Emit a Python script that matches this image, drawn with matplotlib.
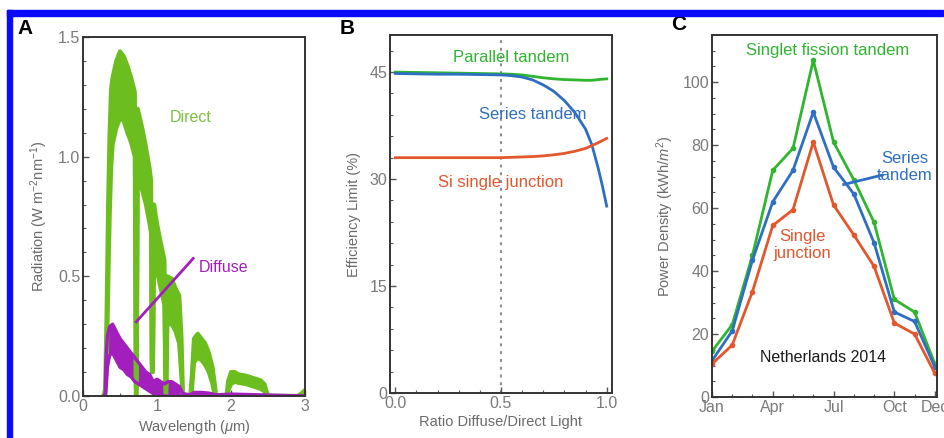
import matplotlib
matplotlib.use("Agg")
import matplotlib.pyplot as plt
from matplotlib.patches import Rectangle
from matplotlib.ticker import MultipleLocator, FixedLocator, FormatStrFormatter

plt.rcParams['font.family'] = ['Liberation Sans', 'DejaVu Sans']
plt.rcParams['mathtext.fontset'] = 'custom'
plt.rcParams['mathtext.rm'] = 'Liberation Sans'
plt.rcParams['mathtext.it'] = 'Liberation Sans:italic'

# ---------------- Panel A data (envelopes of noisy spectra) ----------------
direct_wl = [0.28, 0.30, 0.32, 0.34, 0.36, 0.38, 0.40, 0.45, 0.50, 0.55, 0.60, 0.65, 0.70,
             0.715, 0.725, 0.74, 0.80, 0.85, 0.90, 0.92, 0.93, 0.945, 0.96, 1.00, 1.05, 1.10,
             1.115, 1.125, 1.14, 1.20, 1.25, 1.30, 1.33, 1.35, 1.45, 1.47, 1.50, 1.55, 1.60,
             1.65, 1.70, 1.75, 1.78, 1.80, 1.94, 1.96, 2.00, 2.05, 2.10, 2.20, 2.30, 2.40,
             2.45, 2.48, 2.50, 2.90, 2.95, 3.00]
direct_hi = [0.0, 0.03, 0.35, 0.80, 1.10, 1.28, 1.33, 1.40, 1.44, 1.42, 1.38, 1.33, 1.27,
             0.03, 0.03, 1.20, 1.12, 1.04, 0.95, 0.90, 0.14, 0.14, 0.80, 0.72, 0.64, 0.57,
             0.03, 0.03, 0.50, 0.49, 0.45, 0.42, 0.25, 0.0, 0.0, 0.08, 0.24, 0.26, 0.24,
             0.22, 0.18, 0.12, 0.05, 0.0, 0.0, 0.06, 0.10, 0.10, 0.09, 0.085, 0.075, 0.065,
             0.05, 0.02, 0.0, 0.0, 0.01, 0.025]
direct_lo = [0.0, 0.0, 0.12, 0.45, 0.75, 0.95, 1.05, 1.12, 1.16, 1.15, 1.10, 1.06, 1.00,
             0.0, 0.0, 0.92, 0.86, 0.80, 0.72, 0.68, 0.10, 0.10, 0.60, 0.52, 0.45, 0.38,
             0.0, 0.0, 0.30, 0.30, 0.27, 0.22, 0.08, 0.0, 0.0, 0.02, 0.14, 0.16, 0.15,
             0.13, 0.10, 0.05, 0.0, 0.0, 0.0, 0.02, 0.05, 0.06, 0.055, 0.05, 0.04, 0.03,
             0.02, 0.0, 0.0, 0.0, 0.0, 0.0]

diffuse_wl = [0.29, 0.30, 0.31, 0.33, 0.36, 0.40, 0.45, 0.50, 0.55, 0.60, 0.65, 0.70, 0.75,
              0.80, 0.85, 0.90, 0.95, 1.00, 1.05, 1.10, 1.15, 1.20, 1.25, 1.30, 1.35, 1.45,
              1.50, 1.60, 1.70, 1.80, 2.00, 2.50, 3.00]
diffuse_hi = [0.0, 0.0, 0.15, 0.25, 0.29, 0.30, 0.27, 0.24, 0.22, 0.20, 0.18, 0.16, 0.14,
              0.12, 0.10, 0.09, 0.06, 0.07, 0.06, 0.05, 0.06, 0.06, 0.05, 0.04, 0.01, 0.005,
              0.015, 0.015, 0.012, 0.005, 0.008, 0.004, 0.0]
diffuse_lo = [0.0, 0.0, 0.02, 0.12, 0.17, 0.18, 0.15, 0.12, 0.11, 0.09, 0.08, 0.06, 0.05,
              0.04, 0.03, 0.02, 0.01, 0.01, 0.005, 0.0, 0.0, 0.0, 0.0, 0.0, 0.0, 0.0,
              0.0, 0.0, 0.0, 0.0, 0.0, 0.0, 0.0]

# ---------------- Panel B data ----------------
ratio = [0.0, 0.1, 0.2, 0.3, 0.4, 0.5, 0.55, 0.6, 0.65, 0.7, 0.75, 0.8, 0.85, 0.9, 0.93, 0.96, 0.98, 1.0]
parallel_tandem = [45.0, 44.95, 44.9, 44.85, 44.8, 44.75, 44.7, 44.6, 44.4, 44.2, 44.05, 43.95,
                   43.9, 43.85, 43.85, 43.95, 44.0, 44.05]
series_tandem = [44.8, 44.75, 44.7, 44.7, 44.65, 44.6, 44.5, 44.3, 43.9, 43.2, 42.3, 41.0,
                 39.3, 37.0, 34.8, 31.5, 29.0, 26.2]
si_single = [33.0, 33.0, 33.0, 33.0, 33.0, 33.0, 33.05, 33.1, 33.15, 33.25, 33.4, 33.6,
             33.9, 34.3, 34.7, 35.1, 35.4, 35.7]

# ---------------- Panel C data ----------------
months = ['Jan', 'Feb', 'Mar', 'Apr', 'May', 'Jun', 'Jul', 'Aug', 'Sep', 'Oct', 'Nov', 'Dec']
month_labels = ['Jan', 'Apr', 'Jul', 'Oct', 'Dec']
sf_tandem = [14.5, 23, 45, 72, 79, 107, 81, 69, 55.5, 31, 27, 10.5]
ser_tandem = [11.5, 21, 43.5, 62, 72, 90.5, 73, 64.5, 49, 27, 24, 9.5]
single_junc = [10.5, 16.5, 33.5, 54.5, 59.5, 81, 61, 51.5, 41.5, 23.5, 20, 7.5]

# ---------------- styles ----------------
GREEN_A = '#6cbd1e'
PURPLE = '#a21fbd'
GREEN = '#2fb52f'
BLUE = '#2e6fc3'
ORANGE = '#e2572b'
TICKC = '#7a7a7a'
LABC = '#6a6a6a'
SPINE = '#333333'

fig = plt.figure(figsize=(9.45, 4.38), dpi=100)

def style(ax):
    for s in ax.spines.values():
        s.set_color(SPINE)
        s.set_linewidth(1.4)
    ax.tick_params(which='both', direction='in', color='#555555', labelcolor=TICKC,
                   labelsize=11.5, pad=2)
    ax.tick_params(which='major', length=4, width=1)
    ax.tick_params(which='minor', length=2.5, width=0.8)

# Panel A
axA = fig.add_axes([0.0878, 0.0959, 0.235, 0.8196])
style(axA)
axA.fill_between(direct_wl, direct_lo, direct_hi, color=GREEN_A, lw=0)
axA.plot(direct_wl, direct_hi, color=GREEN_A, lw=3)
axA.plot(direct_wl, direct_lo, color=GREEN_A, lw=3)
axA.fill_between(diffuse_wl, diffuse_lo, diffuse_hi, color=PURPLE, lw=0)
axA.plot(diffuse_wl, diffuse_hi, color=PURPLE, lw=2.4)
axA.plot(diffuse_wl, diffuse_lo, color=PURPLE, lw=2.4)
axA.set_xlim(0, 3)
axA.set_ylim(0, 1.5)
axA.xaxis.set_major_locator(MultipleLocator(1))
axA.xaxis.set_minor_locator(MultipleLocator(0.5))
axA.yaxis.set_major_locator(MultipleLocator(0.5))
axA.yaxis.set_minor_locator(MultipleLocator(0.1))
axA.yaxis.set_major_formatter(FormatStrFormatter('%.1f'))
axA.set_xlabel(r'Wavelength ($\mu$m)', color=LABC, fontsize=10.5, labelpad=3)
axA.set_ylabel(r'Radiation (W m$^{-2}$nm$^{-1}$)', color=LABC, fontsize=10.5, labelpad=6)
axA.text(1.45, 1.165, 'Direct', color='#7cc242', fontsize=11.5, ha='center', va='center')
axA.text(1.9, 0.535, 'Diffuse', color=PURPLE, fontsize=11.5, ha='center', va='center')
axA.plot([0.72, 1.49], [0.31, 0.575], color=PURPLE, lw=2)

# Panel B
axB = fig.add_axes([0.4127, 0.1027, 0.2349, 0.8174])
style(axB)
axB.axvline(0.5, color='#8a8a8a', lw=1.4, ls=(0, (1.5, 2.5)), zorder=1)
axB.plot(ratio, parallel_tandem, color=GREEN, lw=2)
axB.plot(ratio, series_tandem, color=BLUE, lw=2)
axB.plot(ratio, si_single, color=ORANGE, lw=2)
axB.set_xlim(-0.025, 1.025)
axB.set_ylim(0, 50.2)
axB.xaxis.set_major_locator(MultipleLocator(0.5))
axB.xaxis.set_minor_locator(MultipleLocator(0.1))
axB.yaxis.set_major_locator(MultipleLocator(15))
axB.yaxis.set_minor_locator(MultipleLocator(3))
axB.xaxis.set_major_formatter(FormatStrFormatter('%.1f'))
axB.set_xlabel('Ratio Diffuse/Direct Light', color=LABC, fontsize=10.5, labelpad=3)
axB.set_ylabel('Efficiency Limit (%)', color=LABC, fontsize=10.5, labelpad=6)
axB.text(0.55, 47.1, 'Parallel tandem', color=GREEN, fontsize=12, ha='center', va='center')
axB.text(0.65, 39.0, 'Series tandem', color=BLUE, fontsize=12, ha='center', va='center')
axB.text(0.5, 29.5, 'Si single junction', color=ORANGE, fontsize=12, ha='center', va='center')

# Panel C
axC = fig.add_axes([0.7534, 0.0936, 0.238, 0.8265])
style(axC)
xm = list(range(len(months)))
axC.plot(xm, sf_tandem, color=GREEN, lw=2, marker='o', ms=3)
axC.plot(xm, ser_tandem, color=BLUE, lw=2, marker='o', ms=3)
axC.plot(xm, single_junc, color=ORANGE, lw=2, marker='o', ms=3)
axC.set_xlim(0, 11.1)
axC.set_ylim(0, 115)
axC.xaxis.set_major_locator(FixedLocator([months.index(m) for m in month_labels]))
axC.set_xticklabels(month_labels)
axC.xaxis.set_minor_locator(MultipleLocator(1))
axC.yaxis.set_major_locator(MultipleLocator(20))
axC.yaxis.set_minor_locator(MultipleLocator(5))
axC.set_ylabel(r'Power Density (kWh/$m^2$)', color=LABC, fontsize=10.5, labelpad=5)
axC.text(5.7, 110, 'Singlet fission tandem', color=GREEN, fontsize=12, ha='center', va='center')
axC.text(9.5, 73, 'Series\ntandem', color=BLUE, fontsize=12, ha='center', va='center',
         linespacing=1.15)
axC.plot([6.5, 8.4], [67.5, 70.5], color=BLUE, lw=2)
axC.text(4.45, 48.4, 'Single\njunction', color=ORANGE, fontsize=12, ha='center', va='center',
         linespacing=1.15)
axC.text(5.5, 12.4, 'Netherlands 2014', color='#1a1a1a', fontsize=11.5, ha='center', va='center')

# Panel letters
fig.text(25 / 945, 1 - 28 / 438, 'A', fontsize=15, fontweight='bold', ha='center', va='center')
fig.text(347 / 945, 1 - 29 / 438, 'B', fontsize=15, fontweight='bold', ha='center', va='center')
fig.text(679 / 945, 1 - 25 / 438, 'C', fontsize=15, fontweight='bold', ha='center', va='center')

# Blue frame (top and left)
fig.patches.append(Rectangle((7 / 945, 1 - 16 / 438), 936 / 945, 6 / 438,
                             transform=fig.transFigure, color='#0a0aff', zorder=10))
fig.patches.append(Rectangle((7 / 945, 0), 5.5 / 945, 1 - 10 / 438,
                             transform=fig.transFigure, color='#0a0aff', zorder=10))

fig.savefig('out.png', dpi=100)
